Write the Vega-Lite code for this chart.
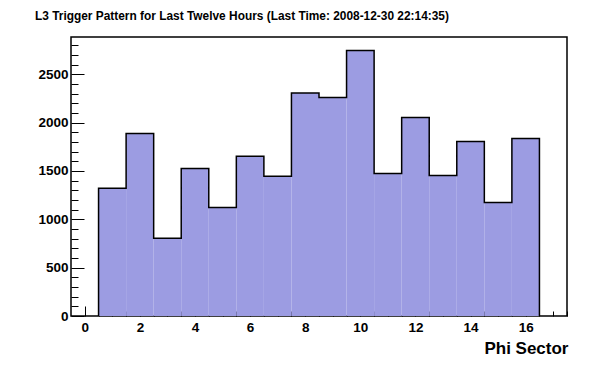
{
  "$schema": "https://vega.github.io/schema/vega-lite/v6.json",
  "width": 496,
  "height": 279,
  "autosize": {"type": "none"},
  "padding": {"left": 71, "top": 37, "right": 29, "bottom": 56},
  "background": "white",
  "title": {
    "text": "L3 Trigger Pattern for Last Twelve Hours (Last Time: 2008-12-30 22:14:35)",
    "anchor": "start",
    "frame": "group",
    "dx": -36,
    "offset": 14,
    "font": "Liberation Sans",
    "fontSize": 11.9,
    "fontWeight": "bold",
    "color": "black"
  },
  "config": {
    "view": {"stroke": "black", "strokeWidth": 1.5},
    "axis": {
      "domain": false,
      "grid": false,
      "tickColor": "black",
      "tickWidth": 1,
      "labelFont": "Liberation Sans",
      "labelFontWeight": "bold",
      "labelFontSize": 13.5,
      "labelColor": "black",
      "labelFlush": false,
      "labelOverlap": false,
      "zindex": 2
    }
  },
  "resolve": {"axis": {"x": "independent", "y": "independent"}},
  "datasets": {
    "bins": [
      {"sector": 1, "lo": 0.5, "hi": 1.5, "count": 1320},
      {"sector": 2, "lo": 1.5, "hi": 2.5, "count": 1887},
      {"sector": 3, "lo": 2.5, "hi": 3.5, "count": 803},
      {"sector": 4, "lo": 3.5, "hi": 4.5, "count": 1526},
      {"sector": 5, "lo": 4.5, "hi": 5.5, "count": 1122},
      {"sector": 6, "lo": 5.5, "hi": 6.5, "count": 1652},
      {"sector": 7, "lo": 6.5, "hi": 7.5, "count": 1444},
      {"sector": 8, "lo": 7.5, "hi": 8.5, "count": 2307},
      {"sector": 9, "lo": 8.5, "hi": 9.5, "count": 2259},
      {"sector": 10, "lo": 9.5, "hi": 10.5, "count": 2746},
      {"sector": 11, "lo": 10.5, "hi": 11.5, "count": 1474},
      {"sector": 12, "lo": 11.5, "hi": 12.5, "count": 2053},
      {"sector": 13, "lo": 12.5, "hi": 13.5, "count": 1453},
      {"sector": 14, "lo": 13.5, "hi": 14.5, "count": 1805},
      {"sector": 15, "lo": 14.5, "hi": 15.5, "count": 1174},
      {"sector": 16, "lo": 15.5, "hi": 16.5, "count": 1836}
    ],
    "outline": [
      {"i": 0, "edge": 0.5, "count": 0},
      {"i": 1, "edge": 0.5, "count": 1320},
      {"i": 2, "edge": 1.5, "count": 1887},
      {"i": 3, "edge": 2.5, "count": 803},
      {"i": 4, "edge": 3.5, "count": 1526},
      {"i": 5, "edge": 4.5, "count": 1122},
      {"i": 6, "edge": 5.5, "count": 1652},
      {"i": 7, "edge": 6.5, "count": 1444},
      {"i": 8, "edge": 7.5, "count": 2307},
      {"i": 9, "edge": 8.5, "count": 2259},
      {"i": 10, "edge": 9.5, "count": 2746},
      {"i": 11, "edge": 10.5, "count": 1474},
      {"i": 12, "edge": 11.5, "count": 2053},
      {"i": 13, "edge": 12.5, "count": 1453},
      {"i": 14, "edge": 13.5, "count": 1805},
      {"i": 15, "edge": 14.5, "count": 1174},
      {"i": 16, "edge": 15.5, "count": 1836},
      {"i": 17, "edge": 16.5, "count": 1836},
      {"i": 18, "edge": 16.5, "count": 0}
    ]
  },
  "layer": [
    {
      "data": {"name": "outline"},
      "mark": {"type": "area", "interpolate": "step-after", "color": "#9c9ce2"},
      "encoding": {
        "x": {
          "field": "edge",
          "type": "quantitative",
          "scale": {"domain": [-0.5, 17.5], "nice": false, "zero": false},
          "axis": {
            "orient": "bottom",
            "title": "Phi Sector",
            "titleFont": "Liberation Sans",
            "titleFontSize": 17,
            "titleFontWeight": "bold",
            "titleColor": "black",
            "titleAnchor": "end",
            "titleAlign": "right",
            "titleBaseline": "middle",
            "titleX": 497,
            "titleY": 32,
            "values": [0, 2, 4, 6, 8, 10, 12, 14, 16],
            "ticks": false,
            "labelPadding": 4
          }
        },
        "y": {
          "field": "count",
          "type": "quantitative",
          "scale": {"domain": [0, 2885], "nice": false},
          "axis": {
            "orient": "left",
            "title": null,
            "format": "d",
            "values": [0, 500, 1000, 1500, 2000, 2500],
            "ticks": false,
            "labelPadding": 3
          }
        },
        "order": {"field": "i", "type": "quantitative"}
      }
    },
    {
      "data": {"name": "outline"},
      "mark": {"type": "line", "interpolate": "step-after", "color": "black", "strokeWidth": 1.5},
      "encoding": {
        "x": {
          "field": "edge",
          "type": "quantitative",
          "axis": {
            "orient": "top",
            "offset": -279,
            "title": null,
            "labels": false,
            "tickSize": 10,
            "values": [0, 2, 4, 6, 8, 10, 12, 14, 16]
          }
        },
        "y": {
          "field": "count",
          "type": "quantitative",
          "axis": {
            "orient": "right",
            "offset": -496,
            "title": null,
            "labels": false,
            "tickSize": 13,
            "values": [0, 500, 1000, 1500, 2000, 2500]
          }
        },
        "order": {"field": "i", "type": "quantitative"}
      }
    },
    {
      "data": {"name": "bins"},
      "mark": {"type": "point", "opacity": 0},
      "encoding": {
        "x": {
          "field": "hi",
          "type": "quantitative",
          "axis": {
            "orient": "top",
            "offset": -279,
            "title": null,
            "labels": false,
            "tickSize": 5,
            "values": [0.5, 1, 1.5, 2.5, 3, 3.5, 4.5, 5, 5.5, 6.5, 7, 7.5, 8.5, 9, 9.5, 10.5, 11, 11.5, 12.5, 13, 13.5, 14.5, 15, 15.5, 16.5, 17, 17.5]
          }
        },
        "y": {
          "field": "count",
          "type": "quantitative",
          "axis": {
            "orient": "right",
            "offset": -496,
            "title": null,
            "labels": false,
            "tickSize": 7,
            "values": [100, 200, 300, 400, 600, 700, 800, 900, 1100, 1200, 1300, 1400, 1600, 1700, 1800, 1900, 2100, 2200, 2300, 2400, 2600, 2700, 2800]
          }
        }
      }
    }
  ]
}
